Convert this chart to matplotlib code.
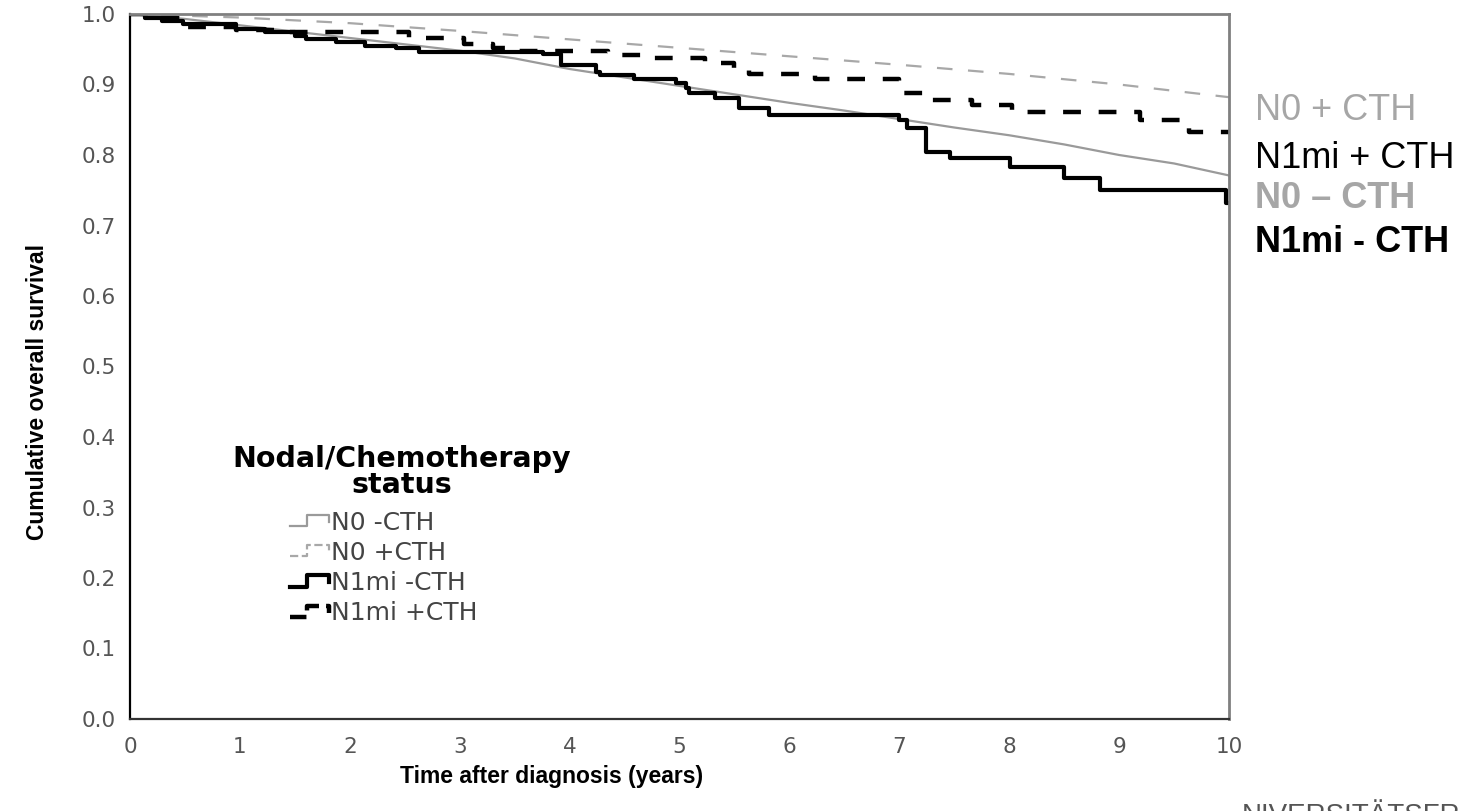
import matplotlib
matplotlib.use("Agg")
import matplotlib.pyplot as plt
from matplotlib.lines import Line2D
from matplotlib.legend_handler import HandlerBase

# Kaplan-Meier curves
# N0 -CTH (gray solid, many events -> nearly smooth)
t_n0_neg = [0, 0.5, 1, 1.5, 2, 2.5, 3, 3.5, 4, 4.5, 5, 5.5, 6, 6.5, 7, 7.5, 8, 8.5, 9, 9.5, 10]
s_n0_neg = [1.0, 0.993, 0.984, 0.975, 0.966, 0.957, 0.948, 0.937, 0.922, 0.910, 0.898,
            0.886, 0.874, 0.863, 0.851, 0.839, 0.828, 0.815, 0.800, 0.788, 0.771]

# N0 +CTH (gray dashed)
t_n0_pos = [0, 1, 2, 3, 4, 5, 6, 7, 8, 9, 10]
s_n0_pos = [1.0, 0.995, 0.987, 0.976, 0.964, 0.952, 0.940, 0.928, 0.915, 0.900, 0.882]

# N1mi -CTH (black solid steps)
t_n1_neg = [0, 0.14, 0.29, 0.48, 0.96, 1.23, 1.5, 1.6, 1.87, 2.14, 2.42, 2.63, 3.76, 3.92,
            4.24, 4.28, 4.59, 4.97, 5.06, 5.09, 5.32, 5.54, 5.81, 7.0, 7.07, 7.24, 7.46,
            8.01, 8.5, 8.83, 9.97, 10.0]
s_n1_neg = [1.0, 0.995, 0.99, 0.986, 0.979, 0.974, 0.969, 0.965, 0.960, 0.955, 0.952, 0.946,
            0.943, 0.928, 0.918, 0.913, 0.908, 0.902, 0.895, 0.888, 0.881, 0.867, 0.857,
            0.850, 0.838, 0.804, 0.796, 0.783, 0.767, 0.750, 0.732, 0.732]

# N1mi +CTH (black dashed steps)
t_n1_pos = [0, 0.21, 0.47, 0.96, 1.4, 2.54, 3.04, 3.3, 3.5, 4.35, 4.68, 5.23, 5.5, 5.63,
            6.23, 7.0, 7.25, 7.66, 8.03, 9.19, 9.64, 10.0]
s_n1_pos = [1.0, 0.994, 0.982, 0.978, 0.974, 0.966, 0.957, 0.952, 0.947, 0.942, 0.938,
            0.930, 0.923, 0.915, 0.908, 0.888, 0.878, 0.871, 0.861, 0.850, 0.833, 0.833]

x_ticks = list(range(0, 11))
y_ticks = [i / 10 for i in range(0, 11)]
legend_title = "Nodal/Chemotherapy\nstatus"
legend_labels = ["N0 -CTH", "N0 +CTH", "N1mi -CTH", "N1mi +CTH"]
side_labels = ["N0 + CTH", "N1mi + CTH", "N0 \u2013 CTH", "N1mi - CTH"]

W, H = 1466, 811
fig = plt.figure(figsize=(W / 100, H / 100), dpi=100)
ax = fig.add_axes([130 / W, 1 - 719 / H, (1229 - 130) / W, (719 - 14) / H])

gray = "#9a9a9a"
l1, = ax.plot(t_n0_neg, s_n0_neg, color=gray, lw=1.6)
l2, = ax.plot(t_n0_pos, s_n0_pos, color="#a8a8a8", lw=1.6, linestyle=(0, (7, 7)))
l3, = ax.plot(t_n1_neg, s_n1_neg, color="black", lw=3, drawstyle="steps-post")
l4, = ax.plot(t_n1_pos, s_n1_pos, color="black", lw=3.2, drawstyle="steps-post",
              linestyle=(0, (4, 4)))

ax.set_xlim(0, 10)
ax.set_ylim(0, 1)
ax.set_xticks(x_ticks)
ax.set_xticklabels([str(v) for v in x_ticks])
ax.set_yticks(y_ticks)
ax.set_yticklabels(["%.1f" % v for v in y_ticks])
ax.tick_params(length=0, labelsize=15.5, labelcolor="#555555")
ax.tick_params(axis="x", pad=13)
ax.tick_params(axis="y", pad=10)

ax.spines["left"].set_color("black")
ax.spines["left"].set_linewidth(1.6)
ax.spines["bottom"].set_color("#333333")
ax.spines["bottom"].set_linewidth(1.6)
for s in ["top", "right"]:
    ax.spines[s].set_color("#808080")
    ax.spines[s].set_linewidth(2)


class StepHandler(HandlerBase):
    # small SPSS-like step icon for the legend
    def create_artists(self, legend, orig, xdescent, ydescent, width, height, fontsize, trans):
        xs = [0, 0.45 * width, 0.45 * width, width, width]
        ys = [0.2 * height, 0.2 * height, 0.85 * height, 0.85 * height, 0.45 * height]
        ln = Line2D([x - xdescent for x in xs], [y - ydescent for y in ys],
                    color=orig.get_color(), lw=orig.get_linewidth(),
                    linestyle=orig.get_linestyle())
        ln.set_transform(trans)
        return [ln]


def ax_frac(px, py):
    return ((px - 130) / 1099, (719 - py) / 705)


tx, ty = ax_frac(402, 472)
ax.text(tx, ty, legend_title, transform=ax.transAxes, ha="center", va="center",
        fontsize=20.5, fontweight="bold", family="DejaVu Sans", linespacing=0.95)

lx, ly = ax_frac(290, 568)
leg = ax.legend([l1, l2, l3, l4], legend_labels, loc="center left",
                bbox_to_anchor=(lx, ly), borderaxespad=0, borderpad=0,
                frameon=False, handlelength=1.55, handletextpad=0.1, labelspacing=0.25,
                prop={"family": "DejaVu Sans", "size": 18},
                handler_map={Line2D: StepHandler()})
for t in leg.get_texts():
    t.set_color("#444444")

fig.text(552 / W, 1 - 776 / H, "Time after diagnosis (years)", ha="center", va="center",
         fontsize=16.5, fontweight="bold", family="Liberation Sans")
fig.text(38 / W, 1 - 392 / H, "Cumulative overall survival", ha="center", va="center",
         rotation=90, fontsize=16.5, fontweight="bold", family="Liberation Sans")

side_colors = ["#a6a6a6", "black", "#a6a6a6", "black"]
side_weights = ["normal", "normal", "bold", "bold"]
side_y = [111, 158, 198, 243]
for lab, c, w, yy in zip(side_labels, side_colors, side_weights, side_y):
    fig.text(1255 / W, 1 - yy / H, lab, ha="left", va="center", fontsize=26,
             color=c, fontweight=w, family="Liberation Sans")

fig.text(1242 / W, 1 - 803 / H, "NIVERSIT\u00c4TSFR", ha="left", va="top", fontsize=20,
         color="#555555", family="Liberation Sans")

fig.savefig("out.png", dpi=100)
